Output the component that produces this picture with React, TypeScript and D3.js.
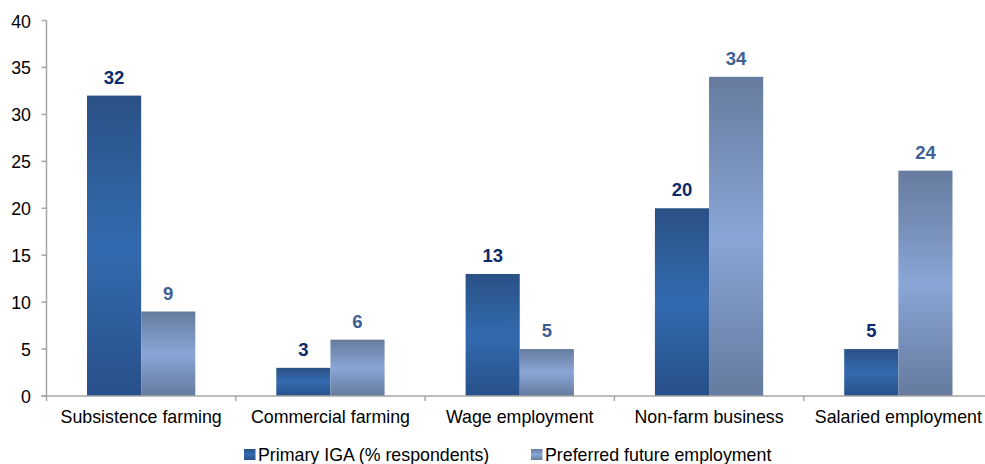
import React from "react";
import * as d3 from "d3";

const categories = ["Subsistence farming", "Commercial farming", "Wage employment", "Non-farm business", "Salaried employment"];
const primaryIGA = [32, 3, 13, 20, 5];
const preferredFuture = [9, 6, 5, 34, 24];
const seriesNames = ["Primary IGA (% respondents)", "Preferred future employment"];
const yTicks = [0, 5, 10, 15, 20, 25, 30, 35, 40];

const W = 985;
const H = 464;
const left = 46.5;
const bandW = 189.3;
const y0 = 396;
const yTop = 20.5;

export default function App() {
  const x = d3.scaleBand<string>().domain(categories).range([left, left + bandW * categories.length]).paddingInner(0).paddingOuter(0);
  const y = d3.scaleLinear().domain([0, 40]).range([y0, yTop]);
  const bw = x.bandwidth();
  const barW = bw * 0.286;
  const series = [
    { name: seriesNames[0], values: primaryIGA, grad: "gPrimary", label: "#0d2a6b" },
    { name: seriesNames[1], values: preferredFuture, grad: "gPreferred", label: "#3d6194" },
  ];
  const font = "'Liberation Sans', Arial, sans-serif";
  const fs = 17.8;
  return (
    <svg width={W} height={H} style={{ position: "absolute", left: 0, top: 0, background: "#fff" }} fontFamily={font}>
      <defs>
        <linearGradient id="gPrimary" x1="0" y1="0" x2="0" y2="1">
          <stop offset="0" stopColor="#2a5186" />
          <stop offset="0.5" stopColor="#336aaf" />
          <stop offset="1" stopColor="#28508a" />
        </linearGradient>
        <linearGradient id="gPreferred" x1="0" y1="0" x2="0" y2="1">
          <stop offset="0" stopColor="#667b9e" />
          <stop offset="0.5" stopColor="#8aa6d6" />
          <stop offset="1" stopColor="#657a9e" />
        </linearGradient>
      </defs>
      {categories.map((c, i) => {
        const cx = (x(c) as number) + bw / 2;
        return series.map((s, k) => {
          const bx = cx - barW + k * barW;
          const v = s.values[i];
          return (
            <g key={c + k}>
              <rect x={bx} y={y(v)} width={barW} height={y0 - y(v)} fill={`url(#${s.grad})`} />
              <text x={bx + barW / 2} y={y(v) - 12} textAnchor="middle" fontWeight="bold" fontSize={18.5} fill={s.label}>
                {v}
              </text>
            </g>
          );
        });
      })}
      <line x1={left} x2={left} y1={yTop} y2={y0} stroke="#a6a6a6" strokeWidth={1.5} />
      {yTicks.map((t) => (
        <g key={t}>
          <line x1={left - 5} x2={left} y1={y(t)} y2={y(t)} stroke="#a6a6a6" strokeWidth={1.5} />
          <text x={31} y={y(t) + 7} textAnchor="end" fontSize={fs} fill="#000">
            {t}
          </text>
        </g>
      ))}
      <line x1={left - 5} x2={left + bandW * categories.length} y1={y0} y2={y0} stroke="#a6a6a6" strokeWidth={1.5} />
      {d3.range(categories.length + 1).map((i) => (
        <line key={i} x1={left + i * bw} x2={left + i * bw} y1={y0} y2={y0 + 5} stroke="#a6a6a6" strokeWidth={1.5} />
      ))}
      {categories.map((c) => (
        <text key={c} x={(x(c) as number) + bw / 2} y={423} textAnchor="middle" fontSize={fs} fill="#000">
          {c}
        </text>
      ))}
      <rect x={244} y={449} width={11.5} height={11} fill="url(#gPrimary)" />
      <text x={258} y={461} fontSize={fs} fill="#000">{seriesNames[0]}</text>
      <rect x={531} y={449} width={11.5} height={11} fill="url(#gPreferred)" />
      <text x={545} y={461} fontSize={fs} fill="#000">{seriesNames[1]}</text>
    </svg>
  );
}
